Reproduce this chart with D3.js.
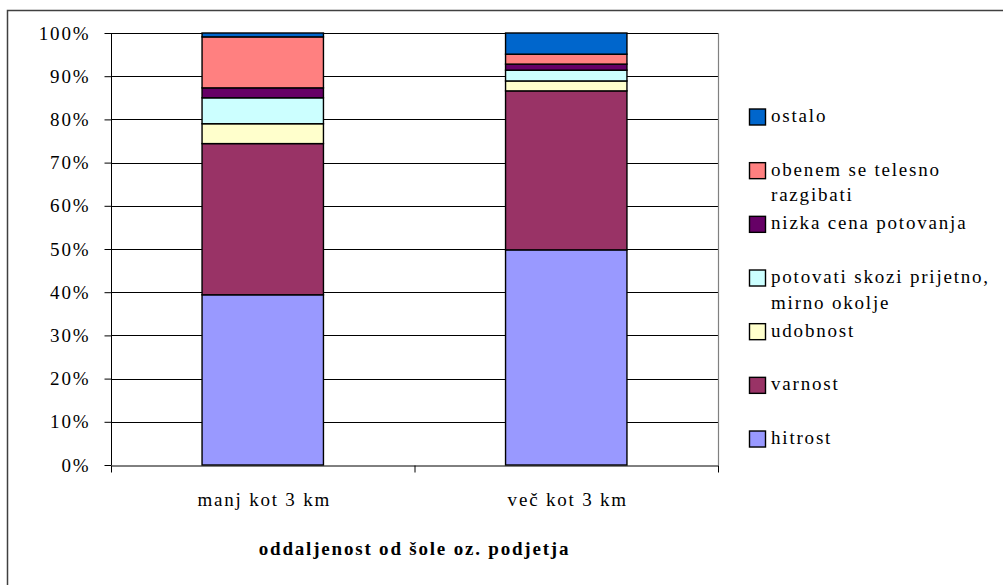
<!DOCTYPE html>
<html>
<head>
<meta charset="utf-8">
<script src="https://cdn.jsdelivr.net/npm/d3@7"></script>
<style>
  html, body { margin: 0; padding: 0; background: #fff; }
  svg { display: block; }
  text { font-family: "Liberation Serif", "Times New Roman", serif; fill: #000; }
</style>
</head>
<body>
<svg id="chart" width="1003" height="585"></svg>
<script>
// ---- data ----
const categories = ["manj kot 3 km", "več kot 3 km"];
const seriesNames = ["hitrost", "varnost", "udobnost", "potovati skozi prijetno, mirno okolje", "nizka cena potovanja", "obenem se telesno razgibati", "ostalo"];
const hitrost   = [39.4, 49.8];
const varnost   = [35.0, 36.8];
const udobnost  = [4.6, 2.3];
const potovati  = [6.0, 2.5];
const nizkaCena = [2.3, 1.4];
const obenem    = [11.8, 2.3];
const ostalo    = [0.9, 4.9];
const seriesColors = ["#9999FF", "#993366", "#FFFFCC", "#CCFFFF", "#660066", "#FF8080", "#0066CC"];
const legendLabels = [["ostalo"], ["obenem se telesno", "razgibati"], ["nizka cena potovanja"], ["potovati skozi prijetno,", "mirno okolje"], ["udobnost"], ["varnost"], ["hitrost"]];
const yTicks = [0, 10, 20, 30, 40, 50, 60, 70, 80, 90, 100];
const xTitle = "oddaljenost od šole oz. podjetja";

const seriesValues = [hitrost, varnost, udobnost, potovati, nizkaCena, obenem, ostalo];
const rows = categories.map((c, i) => {
  const r = { cat: c };
  seriesNames.forEach((s, k) => r[s] = seriesValues[k][i]);
  return r;
});

// ---- layout ----
const svg = d3.select("#chart");
const L = 111, R = 718, T = 33, B = 465;
const FS = 19, LS = 1.8;

svg.append("rect").attr("x", 7.5).attr("y", 10.5).attr("width", 1100).attr("height", 700)
  .attr("fill", "none").attr("stroke", "#404040").attr("stroke-width", 1.5);

const x = d3.scaleBand().domain(categories).range([L, R]).padding(0);
const y = d3.scaleLinear().domain([0, 100]).range([B, T]);

// gridlines
svg.append("g").selectAll("line").data(yTicks.filter(d => d > 0)).join("line")
  .attr("x1", L).attr("x2", R)
  .attr("y1", d => Math.round(y(d)) + 0.5).attr("y2", d => Math.round(y(d)) + 0.5)
  .attr("stroke", "#000").attr("stroke-width", 1);

// plot right border
svg.append("line").attr("x1", R + 0.5).attr("x2", R + 0.5).attr("y1", T).attr("y2", B)
  .attr("stroke", "#808080").attr("stroke-width", 1.2);

// stacked bars
const stack = d3.stack().keys(seriesNames);
const stacked = stack(rows);
const barW = x.bandwidth() * 0.4;
svg.append("g").selectAll("g").data(stacked).join("g")
  .attr("fill", (d, i) => seriesColors[i])
  .selectAll("rect").data(d => d).join("rect")
  .attr("x", d => x(d.data.cat) + (x.bandwidth() - barW) / 2)
  .attr("y", d => y(d[1]))
  .attr("width", barW)
  .attr("height", d => y(d[0]) - y(d[1]))
  .attr("stroke", "#000").attr("stroke-width", 1.4);

// y axis
const yAxis = d3.axisLeft(y).tickValues(yTicks).tickFormat(d => d + "%").tickSize(7).tickPadding(16 - LS);
const gy = svg.append("g").attr("transform", `translate(${L + 0.5},0)`).call(yAxis);
gy.select(".domain").attr("stroke", "#000").attr("d", `M0,${T}V${B}`);
gy.selectAll(".tick line").attr("stroke", "#000");
gy.selectAll(".tick text").attr("font-family", "Liberation Serif").attr("font-size", FS).attr("letter-spacing", LS).attr("fill", "#000");

// x axis
const xb = d3.scaleLinear().domain([0, categories.length]).range([L, R]);
const xAxis = d3.axisBottom(xb).tickValues(d3.range(categories.length + 1)).tickFormat("").tickSize(7).tickSizeOuter(0);
const gx = svg.append("g").attr("transform", `translate(0,${B + 0.5})`).call(xAxis);
gx.select(".domain").attr("stroke", "#000");
gx.selectAll(".tick line").attr("stroke", "#000");

svg.append("g").selectAll("text").data(categories).join("text")
  .attr("x", d => x(d) + x.bandwidth() / 2 + 1.5)
  .attr("y", 506)
  .attr("text-anchor", "middle")
  .attr("font-size", FS).attr("letter-spacing", LS)
  .text(d => d);

svg.append("text").attr("x", (L + R) / 2).attr("y", 555)
  .attr("text-anchor", "middle").attr("font-weight", "bold")
  .attr("font-size", FS).attr("letter-spacing", LS)
  .text(xTitle);

// legend
const legendColors = seriesColors.slice().reverse();
const lg = svg.append("g");
legendLabels.forEach((lines, i) => {
  const cy = 116 + i * 53.67;
  lg.append("rect").attr("x", 749.5).attr("y", cy - 7).attr("width", 16).attr("height", 16)
    .attr("fill", legendColors[i]).attr("stroke", "#000").attr("stroke-width", 1.4);
  lines.forEach((t, j) => {
    lg.append("text").attr("x", 771).attr("y", cy + 6 + j * 25.5)
      .attr("font-size", FS).attr("letter-spacing", LS).text(t);
  });
});
</script>
</body>
</html>
